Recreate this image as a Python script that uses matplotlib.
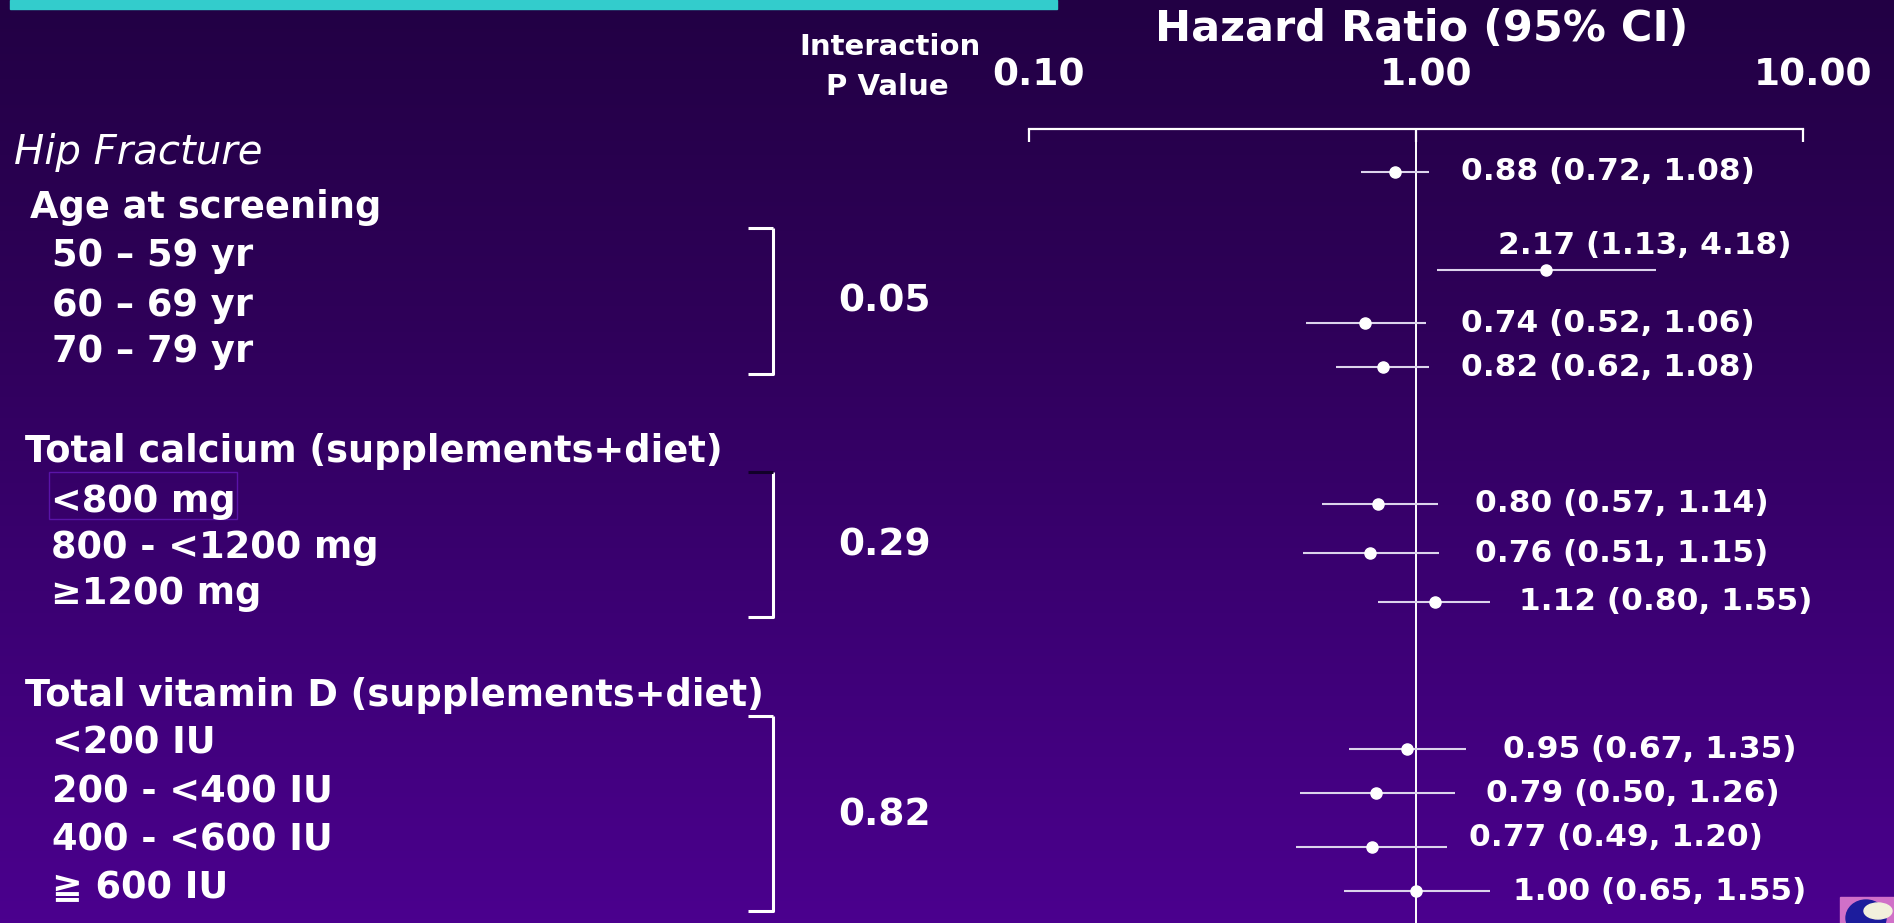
import matplotlib
matplotlib.use("Agg")
import matplotlib.pyplot as plt
import numpy as np
from matplotlib.colors import LinearSegmentedColormap
from matplotlib.patches import Rectangle, Ellipse
from matplotlib.ticker import NullLocator
from matplotlib.transforms import offset_copy

# Hazard ratios (95% CI), top to bottom: overall, age, calcium, vitamin D
hr = [0.88, 2.17, 0.74, 0.82, 0.80, 0.76, 1.12, 0.95, 0.79, 0.77, 1.00]
ci_low = [0.72, 1.13, 0.52, 0.62, 0.57, 0.51, 0.80, 0.67, 0.50, 0.49, 0.65]
ci_high = [1.08, 4.18, 1.06, 1.08, 1.14, 1.15, 1.55, 1.35, 1.26, 1.20, 1.55]

group_titles = ["Age at screening",
                "Total calcium (supplements+diet)",
                "Total vitamin D (supplements+diet)"]
subgroups = ["50 \u2013 59 yr", "60 \u2013 69 yr", "70 \u2013 79 yr",
             "<800 mg", "800 - <1200 mg", "\u22651200 mg",
             "<200 IU", "200 - <400 IU", "400 - <600 IU", "\u2267 600 IU"]
p_values = ["0.05", "0.29", "0.82"]
axis_ticks = [0.1, 1, 10]
tick_labels = ["0.10", "1.00", "10.00"]

# layout (pixels from the top-left corner)
W, H = 1894, 923
mark_y = [172, 270, 323, 367, 504, 553, 602, 749, 793, 847, 891]
est_y = [172, 245, 323, 367, 504, 553, 602, 749, 793, 838, 891]
est_x = [1461, 1498, 1461, 1461, 1475, 1475, 1519, 1503, 1486, 1469, 1513]
title_y = [208, 452, 695]
title_x = [30, 25, 25]
sub_y = [256, 305, 352, 502, 548, 593, 743, 792, 840, 888]
sub_x = [52, 52, 52, 51, 51, 51, 52, 52, 52, 52]
brackets = [(228, 374), (472, 617), (716, 911)]
p_y = [302, 546, 815]
axis_top = 129

plt.rcParams['font.family'] = ['DejaVu Sans']
fig = plt.figure(figsize=(W / 100, H / 100), dpi=100)

# full-figure axes in pixel units for background and text
bg = fig.add_axes([0, 0, 1, 1])
bg.set_xlim(0, W)
bg.set_ylim(H, 0)
bg.axis('off')
cmap = LinearSegmentedColormap.from_list('bgpurple', ['#220044', '#2E0058', '#3C0074', '#4B008E'])
grad = np.linspace(0, 1, 256).reshape(-1, 1)
bg.imshow(grad, extent=[0, W, H, 0], aspect='auto', cmap=cmap, zorder=0)

# cyan title bar
bg.add_patch(Rectangle((10, 0), 1047, 9, color='#33CCCC', zorder=1))

white = dict(color='white', fontweight='bold', va='center')

bg.text(14, 153, "Hip Fracture", color='white', fontstyle='italic',
        fontsize=29, va='center')
for t, x, y in zip(group_titles, title_x, title_y):
    bg.text(x, y, t, fontsize=26.5, ha='left', **white)
for t, x, y in zip(subgroups, sub_x, sub_y):
    bg.text(x, y, t, fontsize=26.5, ha='left', **white)

# faint box around the first calcium row
bg.add_patch(Rectangle((49, 472), 188, 47, fill=False, ec='#5A14A8', lw=1))

bg.text(890, 47, "Interaction", fontsize=21, ha='center', **white)
bg.text(887, 87, "P Value", fontsize=21, ha='center', **white)

# brackets grouping the subgroups
for i, (top, bot) in enumerate(brackets):
    bg.plot([773, 773, 748], [top, bot, bot], color='white', lw=2.2,
            solid_capstyle='butt', zorder=2)
    bg.plot([748, 773], [top, top], color='#12002A' if i == 1 else 'white',
            lw=2.2, solid_capstyle='butt', zorder=2)
for p, y in zip(p_values, p_y):
    bg.text(885, y, p, fontsize=27, ha='center', **white)

bg.text(1422, 29, "Hazard Ratio (95% CI)", fontsize=31, ha='center', **white)

# estimate labels
for h, lo, hi, x, y in zip(hr, ci_low, ci_high, est_x, est_y):
    bg.text(x, y, f"{h:.2f} ({lo:.2f}, {hi:.2f})", fontsize=22.5,
            ha='left', **white)

# logo in the corner
bg.add_patch(Rectangle((1840, 897), 60, 30, color='#D070C8', zorder=1))
bg.add_patch(Ellipse((1866, 918), 40, 36, color='#1C1C9C', zorder=2))
bg.add_patch(Ellipse((1878, 911), 28, 16, color='#F2F0DC', zorder=3))

# forest plot axes on a log scale
ax = fig.add_axes([1029 / W, 0, 774 / W, (H - axis_top) / H])
ax.set_facecolor('none')
ax.set_xscale('log')
ax.set_xlim(0.1, 10)
ax.set_ylim(H, axis_top)
for s in ['left', 'right', 'bottom']:
    ax.spines[s].set_visible(False)
ax.spines['top'].set_color('white')
ax.spines['top'].set_linewidth(1.6)
ax.xaxis.tick_top()
ax.set_xticks(axis_ticks)
ax.set_xticklabels([])
ax.xaxis.set_minor_locator(NullLocator())
ax.tick_params(axis='x', direction='in', length=9, width=1.6, color='white')
ax.set_yticks([])

shift = offset_copy(ax.transData, fig=fig, x=10, y=0, units='dots')
for t, lbl in zip(axis_ticks, tick_labels):
    ax.text(t, 75, lbl, transform=shift, fontsize=27, ha='center',
            clip_on=False, **white)

ax.axvline(1, color='white', lw=1.4, zorder=1)
ax.hlines(mark_y, ci_low, ci_high, color='#DCD4EC', lw=1.5, zorder=2)
ax.plot(hr, mark_y, 'o', color='white', ms=8, zorder=3)

fig.savefig('out.png', dpi=100)
